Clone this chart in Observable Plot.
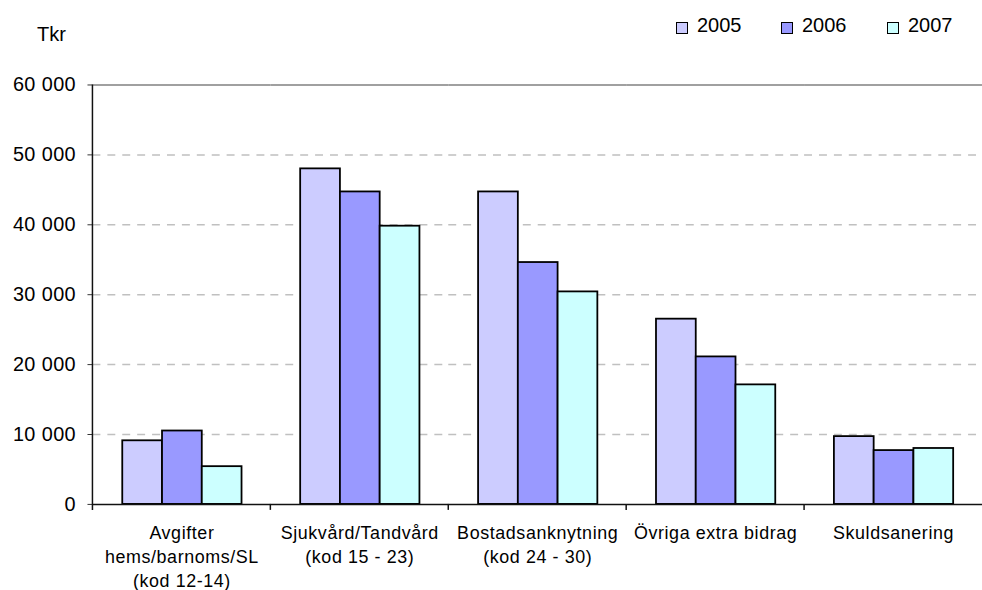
<!DOCTYPE html>
<html>
<head>
<meta charset="utf-8">
<script src="https://cdn.jsdelivr.net/npm/d3@7"></script>
<script src="https://cdn.jsdelivr.net/npm/@observablehq/plot@0.6"></script>
<style>
  html, body { margin: 0; padding: 0; background: #fff; overflow: hidden; width: 982px; height: 590px; }
  #wrap { position: relative; width: 982px; height: 590px; font-family: Arial, "Liberation Sans", sans-serif; }
  #chart { position: absolute; left: 0; top: 0; }
  .unit { position: absolute; left: 37px; top: 24px; font-size: 20px; line-height: 20px; color: #000; }
  .leg { position: absolute; top: 15px; font-size: 20px; line-height: 20px; color: #000; }
  .sw { position: absolute; top: 7px; width: 10px; height: 10px; border: 1px solid #000; }
  .lt { position: absolute; left: 21px; top: 0; white-space: nowrap; }
</style>
</head>
<body>
<div id="wrap">
  <div id="chart"></div>
  <div class="unit">Tkr</div>
  <div id="legend"></div>
</div>
<script>
const categories = [
  "Avgifter\nhems/barnoms/SL\n(kod 12-14)",
  "Sjukvård/Tandvård\n(kod 15 - 23)",
  "Bostadsanknytning\n(kod 24 - 30)",
  "Övriga extra bidrag",
  "Skuldsanering"
];
const years = ["2005", "2006", "2007"];
const values2005 = [9100, 48000, 44700, 26500, 9700];
const values2006 = [10500, 44700, 34600, 21100, 7700];
const values2007 = [5400, 39800, 30400, 17100, 8000];
const yTicks = [0, 10000, 20000, 30000, 40000, 50000, 60000];
const yTickLabels = ["0", "10 000", "20 000", "30 000", "40 000", "50 000", "60 000"];
const colors = ["#CCCCFF", "#9999FF", "#CCFFFF"];

const series = [values2005, values2006, values2007];
const data = [];
categories.forEach((c, i) => {
  years.forEach((yr, j) => data.push({category: c, year: yr, value: series[j][i]}));
});

const plot = Plot.plot({
  width: 988,
  height: 590,
  marginTop: 85,
  marginBottom: 83,
  marginLeft: 93,
  marginRight: 0,
  style: {fontFamily: "Arial, 'Liberation Sans', sans-serif", background: "white", color: "black", overflow: "visible"},
  fx: {domain: categories, padding: 0, axis: null},
  x: {domain: years, paddingInner: 0, paddingOuter: 0.7375, align: 0.5, axis: null},
  y: {domain: [0, 60000]},
  color: {domain: years, range: colors},
  marks: [
    Plot.ruleY(yTicks.slice(1, -1), {stroke: "#c0c0c0", strokeWidth: 1.5, strokeDasharray: "8,7"}),
    Plot.ruleY([60000], {stroke: "#808080", strokeWidth: 1.5}),
    Plot.barY(data, {fx: "category", x: "year", y: "value", fill: "year", stroke: "black", strokeWidth: 1.8}),
    Plot.ruleY([0], {stroke: "#111", strokeWidth: 1.5}),
    Plot.axisY({
      ticks: yTicks,
      tickFormat: d => yTickLabels[yTicks.indexOf(d)],
      tickSize: 5,
      tickPadding: 12,
      fontSize: 20,
      label: null,
      stroke: "#333"
    }),
    Plot.text(categories, {
      fx: d => d,
      text: d => d,
      frameAnchor: "bottom",
      lineAnchor: "top",
      dy: 18,
      lineHeight: 1.33,
      fontSize: 18,
      fill: "black"
    })
  ]
});

document.getElementById("chart").appendChild(plot);

// axis line and category boundary ticks from the scales
const fx = plot.scale("fx");
const ys = plot.scale("y");
const band = d3.scaleBand().domain(fx.domain).range(fx.range).padding(0);
const svg = d3.select(plot);
const y0 = ys.apply(0), yTop = ys.apply(60000);
const g = svg.append("g").attr("stroke", "#111").attr("stroke-width", 1.5);
g.append("line").attr("x1", band.range()[0]).attr("x2", band.range()[0]).attr("y1", yTop).attr("y2", y0 + 6);
fx.domain.forEach((c, i) => {
  if (i === 0) return;
  const x = band(c);
  g.append("line").attr("x1", x).attr("x2", x).attr("y1", y0).attr("y2", y0 + 6);
});
svg.selectAll('g[aria-label="text"] text').style("letter-spacing", "0.6px");
svg.selectAll('g[aria-label="y-axis tick label"] text').style("letter-spacing", "0.4px");

// legend
const leg = document.getElementById("legend");
const legX = [676, 781, 887];
years.forEach((yr, j) => {
  const it = document.createElement("div");
  it.className = "leg";
  it.style.left = legX[j] + "px";
  it.innerHTML = `<div class="sw" style="background:${colors[j]}"></div><div class="lt">${yr}</div>`;
  leg.appendChild(it);
});
</script>
</body>
</html>
